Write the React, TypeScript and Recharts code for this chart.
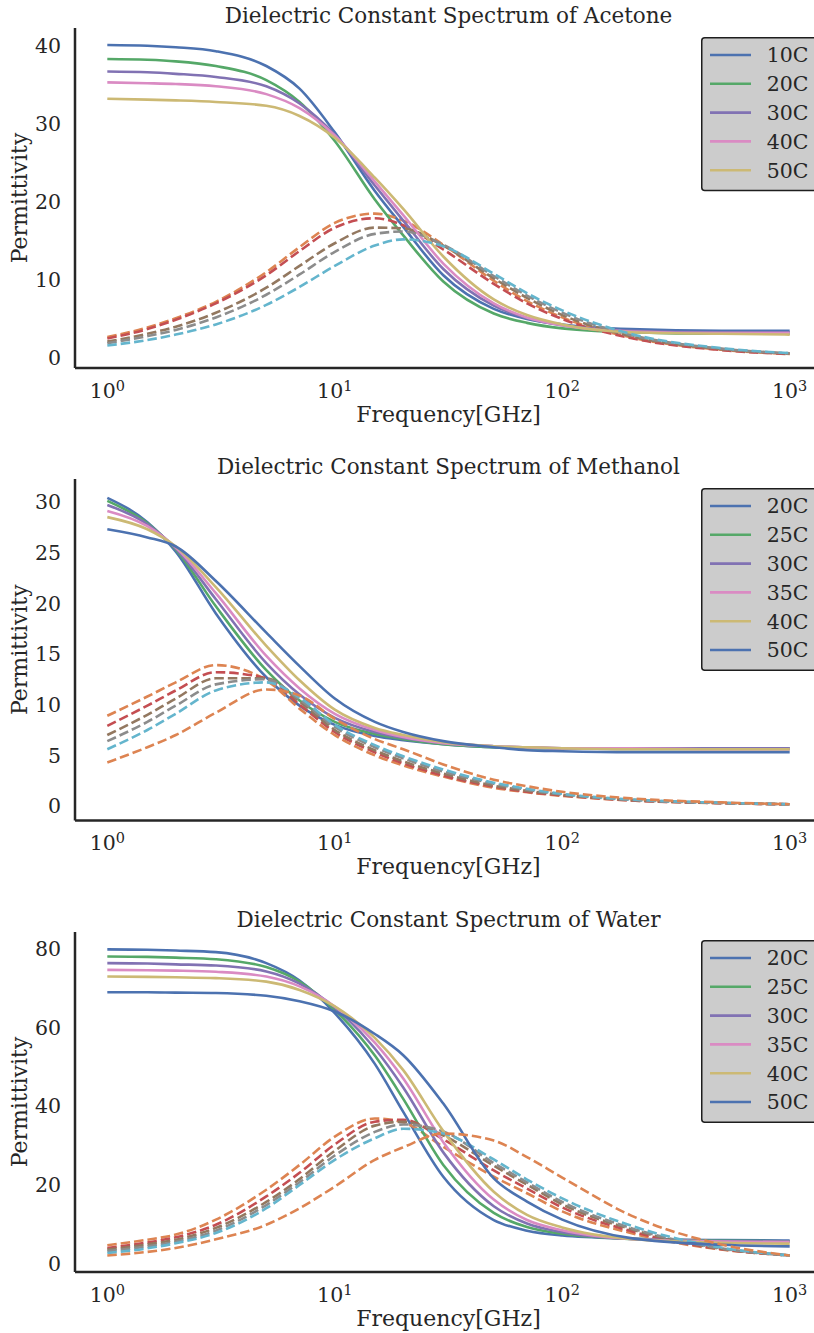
import React from 'react';
import { LineChart, Line, XAxis, YAxis } from 'recharts';

// frequency grid in GHz, shared by every curve
const FREQ = [1, 1.5, 2, 3, 5, 7, 10, 15, 20, 30, 50, 70, 100, 200, 500, 1000];

const ACETONE_TEMPS = ['10C', '20C', '30C', '40C', '50C'];
const ACETONE_REAL = [
  [40.1, 40.0, 39.8, 39.3, 37.4, 34.5, 28.9, 21.4, 16.8, 10.6, 6.3, 5.0, 4.3, 3.7, 3.5, 3.5],
  [38.3, 38.2, 38.0, 37.4, 35.6, 32.8, 27.8, 20.3, 15.7, 9.8, 5.7, 4.5, 3.8, 3.3, 3.1, 3.1],
  [36.7, 36.6, 36.4, 36.0, 34.8, 32.6, 28.6, 22.1, 17.6, 11.4, 6.7, 5.1, 4.2, 3.5, 3.3, 3.3],
  [35.3, 35.2, 35.1, 34.8, 33.8, 32.0, 28.5, 22.6, 18.3, 12.1, 7.0, 5.2, 4.2, 3.4, 3.2, 3.2],
  [33.2, 33.1, 33.0, 32.8, 32.3, 31.0, 28.2, 23.1, 19.1, 13.0, 7.5, 5.5, 4.3, 3.3, 3.1, 3.0],
];
const ACETONE_IMAG = [
  [2.7, 3.9, 5.1, 7.2, 11.0, 14.2, 17.3, 18.5, 17.6, 14.5, 9.9, 7.3, 5.2, 2.65, 1.06, 0.53],
  [2.5, 3.7, 4.9, 7.0, 10.6, 13.7, 16.7, 17.9, 17.0, 13.9, 9.5, 7.0, 5.0, 2.55, 1.02, 0.51],
  [2.1, 3.1, 4.0, 5.8, 9.0, 11.8, 14.7, 16.7, 16.6, 14.4, 10.2, 7.7, 5.5, 2.8, 1.14, 0.57],
  [1.9, 2.8, 3.6, 5.2, 8.1, 10.7, 13.6, 15.9, 16.2, 14.5, 10.5, 8.0, 5.8, 2.95, 1.2, 0.6],
  [1.6, 2.3, 3.0, 4.3, 6.8, 9.1, 11.8, 14.4, 15.2, 14.3, 10.8, 8.3, 6.1, 3.1, 1.27, 0.63],
];

const METHANOL_TEMPS = ['20C', '25C', '30C', '35C', '40C', '50C'];
const METHANOL_REAL = [
  [30.4, 28.0, 25.1, 19.0, 12.7, 9.9, 8.0, 6.9, 6.5, 6.1, 5.8, 5.7, 5.7, 5.6, 5.6, 5.6],
  [30.1, 27.9, 25.3, 19.7, 13.4, 10.4, 8.3, 7.1, 6.6, 6.1, 5.8, 5.7, 5.7, 5.7, 5.7, 5.7],
  [29.7, 27.8, 25.4, 20.4, 14.1, 11.0, 8.7, 7.3, 6.7, 6.2, 5.9, 5.8, 5.7, 5.7, 5.7, 5.7],
  [29.1, 27.6, 25.5, 21.0, 14.8, 11.6, 9.1, 7.5, 6.8, 6.2, 5.9, 5.8, 5.7, 5.7, 5.6, 5.6],
  [28.5, 27.3, 25.6, 21.6, 15.8, 12.4, 9.5, 7.7, 7.0, 6.3, 5.9, 5.8, 5.7, 5.6, 5.6, 5.6],
  [27.3, 26.5, 25.6, 22.2, 17.1, 13.8, 10.6, 8.3, 7.3, 6.4, 5.8, 5.5, 5.4, 5.3, 5.3, 5.3],
];
const METHANOL_IMAG = [
  [8.9, 10.8, 12.2, 13.9, 12.4, 9.6, 7.0, 5.0, 4.0, 2.9, 1.8, 1.35, 1.0, 0.55, 0.28, 0.17],
  [7.9, 9.9, 11.4, 13.2, 12.6, 10.0, 7.3, 5.3, 4.2, 3.0, 1.9, 1.4, 1.05, 0.55, 0.28, 0.17],
  [7.0, 9.0, 10.6, 12.6, 12.6, 10.3, 7.5, 5.5, 4.4, 3.2, 2.0, 1.5, 1.1, 0.6, 0.3, 0.17],
  [6.4, 8.3, 9.9, 12.0, 12.5, 10.5, 7.8, 5.8, 4.7, 3.4, 2.2, 1.6, 1.15, 0.6, 0.3, 0.17],
  [5.6, 7.5, 9.1, 11.4, 12.2, 10.7, 8.0, 6.0, 4.9, 3.6, 2.3, 1.7, 1.2, 0.65, 0.32, 0.17],
  [4.3, 5.8, 7.0, 9.2, 11.5, 10.9, 8.6, 6.6, 5.6, 4.1, 2.6, 1.95, 1.4, 0.75, 0.36, 0.17],
];

const WATER_TEMPS = ['20C', '25C', '30C', '35C', '40C', '50C'];
const WATER_REAL = [
  [79.8, 79.7, 79.5, 79.1, 76.3, 71.9, 63.6, 50.7, 38.5, 22.0, 11.0, 8.3, 7.1, 6.3, 5.9, 5.8],
  [78.0, 77.9, 77.7, 77.3, 75.3, 71.6, 64.4, 52.8, 41.8, 25.0, 12.8, 9.2, 7.5, 6.2, 5.7, 5.6],
  [76.3, 76.2, 76.0, 75.7, 74.2, 71.1, 65.0, 54.6, 44.7, 28.2, 14.5, 10.1, 7.9, 6.2, 5.6, 5.5],
  [74.6, 74.5, 74.4, 74.1, 72.9, 70.4, 65.3, 56.1, 47.0, 30.8, 16.2, 11.0, 8.4, 6.2, 5.5, 5.4],
  [72.9, 72.8, 72.7, 72.5, 71.6, 69.5, 65.3, 57.3, 49.1, 33.6, 18.2, 12.3, 9.1, 6.2, 5.2, 5.0],
  [68.9, 68.9, 68.8, 68.7, 68.0, 66.6, 64.0, 58.3, 52.9, 40.6, 21.6, 15.7, 11.1, 6.4, 4.7, 4.3],
];
const WATER_IMAG = [
  [4.6, 6.0, 7.3, 11.1, 18.7, 25.0, 32.2, 36.8, 35.8, 29.6, 22.0, 17.8, 13.2, 7.7, 3.5, 2.0],
  [3.9, 5.3, 6.6, 9.8, 17.0, 23.0, 30.2, 36.0, 36.5, 31.5, 23.6, 19.0, 14.2, 8.2, 3.6, 2.0],
  [3.5, 4.8, 6.0, 9.0, 15.6, 21.4, 28.6, 35.0, 36.0, 32.5, 24.8, 20.0, 15.0, 8.7, 3.7, 2.0],
  [3.1, 4.3, 5.5, 8.3, 14.8, 20.6, 27.4, 33.4, 35.3, 33.5, 25.5, 20.6, 15.6, 9.0, 3.8, 2.0],
  [2.6, 3.8, 5.1, 7.7, 14.0, 19.9, 26.3, 31.8, 34.2, 33.0, 26.4, 21.3, 16.5, 9.6, 4.0, 2.0],
  [2.0, 2.9, 3.9, 6.1, 9.8, 14.0, 19.5, 26.3, 29.5, 33.0, 31.2, 27.0, 21.8, 12.2, 4.8, 2.0],
];

const X_TICKS = [1, 10, 100, 1000];
const REAL_COLORS = ['#4C72B0', '#55A868', '#8172B3', '#DA8BC3', '#CCB974', '#4C72B0'];
const IMAG_COLORS = ['#DD8452', '#C44E52', '#937860', '#8C8C8C', '#64B5CD', '#DD8452'];

const FONT = '"DejaVu Serif", serif';
const INK = '#262626';
const X_DOMAIN: [number, number] = [0.721, 1387];
const CHART_W = 830;
const PLOT_LEFT = 75;
const PLOT_RIGHT = 822;
const TOP = 30;     // space above the plot area inside each chart
const BELOW = 65;   // space for ticks + x label
const LINE_W = 2.6;
const TICK_FS = 20.5;
const LABEL_FS = 22;

function buildRows(real: number[][], imag: number[][]) {
  return FREQ.map((f, k) => {
    const row: Record<string, number> = { f };
    real.forEach((s, i) => { row['r' + i] = s[k]; });
    imag.forEach((s, i) => { row['i' + i] = s[k]; });
    return row;
  });
}

type PanelProps = {
  title: string;
  temps: string[];
  real: number[][];
  imag: number[][];
  yTicks: number[];
  yDomain: [number, number];
  plotTop: number;
  plotH: number;
};

function Legend({ temps, top }: { temps: string[]; top: number }) {
  const h = 17.3 + (temps.length - 1) * 28.8 + 20.2;
  return (
    <svg style={{ position: 'absolute', left: 701, top, overflow: 'visible' }} width={125} height={h + 2}>
      <rect x={0.75} y={0.75} width={122} height={h} rx={3} fill="#CCCCCC" stroke="#1e1e1e" strokeWidth={1.5} />
      {temps.map((t, i) => {
        const y = 18 + i * 28.8;
        return (
          <g key={t + i}>
            <line x1={9} x2={50} y1={y} y2={y} stroke={REAL_COLORS[i]} strokeWidth={LINE_W} />
            <text x={65.7} y={y + 7.4} fontFamily={FONT} fontSize={TICK_FS} fill={INK}>{t}</text>
          </g>
        );
      })}
    </svg>
  );
}

function Panel({ title, temps, real, imag, yTicks, yDomain, plotTop, plotH }: PanelProps) {
  const rows = buildRows(real, imag);
  const bottom = TOP + plotH;
  const cx = (PLOT_LEFT + PLOT_RIGHT) / 2;
  const spine = { stroke: INK, strokeWidth: 2.5 };

  const xTick = (p: any) => {
    const exp = Math.round(Math.log10(p.payload.value));
    return (
      <text x={p.x} y={bottom + 30} textAnchor="middle" fontFamily={FONT} fontSize={TICK_FS} fill={INK}>
        10<tspan dy={-7.5} fontSize={14.5}>{exp}</tspan>
      </text>
    );
  };
  const yTick = (p: any) => (
    <text x={61} y={p.y + 7.4} textAnchor="end" fontFamily={FONT} fontSize={TICK_FS} fill={INK}>
      {p.payload.value}
    </text>
  );

  return (
    <div style={{ position: 'absolute', left: 0, top: plotTop - TOP }}>
      <LineChart
        width={CHART_W}
        height={TOP + plotH + BELOW}
        data={rows}
        margin={{ top: TOP, right: CHART_W - PLOT_RIGHT, bottom: 0, left: 15 }}
      >
        <XAxis
          xAxisId="top"
          orientation="top"
          dataKey="f"
          type="number"
          scale="log"
          domain={X_DOMAIN}
          allowDataOverflow
          height={0}
          tick={false}
          tickLine={false}
          axisLine={spine}
        />
        <XAxis
          dataKey="f"
          type="number"
          scale="log"
          domain={X_DOMAIN}
          allowDataOverflow
          ticks={X_TICKS}
          interval={0}
          height={BELOW}
          tickLine={false}
          axisLine={spine}
          tick={xTick}
          label={() => (
            <text x={cx} y={bottom + 54} textAnchor="middle" fontFamily={FONT} fontSize={LABEL_FS} fill={INK}>
              Frequency[GHz]
            </text>
          )}
        />
        <YAxis
          type="number"
          domain={yDomain}
          allowDataOverflow
          ticks={yTicks}
          interval={0}
          width={60}
          tickLine={false}
          axisLine={spine}
          tick={yTick}
          label={() => (
            <text
              x={27}
              y={TOP + plotH / 2}
              transform={`rotate(-90, 27, ${TOP + plotH / 2})`}
              textAnchor="middle"
              fontFamily={FONT}
              fontSize={LABEL_FS}
              fill={INK}
            >
              Permittivity
            </text>
          )}
        />
        {real.flatMap((_, i) => [
          <Line
            key={'r' + i}
            xAxisId={0}
            dataKey={'r' + i}
            type="monotone"
            stroke={REAL_COLORS[i]}
            strokeWidth={LINE_W}
            dot={false}
            activeDot={false}
            isAnimationActive={false}
          />,
          <Line
            key={'i' + i}
            xAxisId={0}
            dataKey={'i' + i}
            type="monotone"
            stroke={IMAG_COLORS[i]}
            strokeWidth={LINE_W}
            strokeDasharray="9.5 4"
            dot={false}
            activeDot={false}
            isAnimationActive={false}
          />,
        ])}
      </LineChart>
      <svg style={{ position: 'absolute', left: 0, top: 0 }} width={CHART_W} height={TOP}>
        <text x={cx} y={TOP - 5} textAnchor="middle" fontFamily={FONT} fontSize={21.5} fill={INK}>
          {title}
        </text>
      </svg>
      <Legend temps={temps} top={TOP + 8.4} />
    </div>
  );
}

export default function App() {
  return (
    <div style={{ position: 'absolute', left: 0, top: 0, width: 814, height: 1333, overflow: 'hidden', background: '#fff' }}>
      <Panel
        title="Dielectric Constant Spectrum of Acetone"
        temps={ACETONE_TEMPS}
        real={ACETONE_REAL}
        imag={ACETONE_IMAG}
        yTicks={[0, 10, 20, 30, 40]}
        yDomain={[-1.28, 42.27]}
        plotTop={28.3}
        plotH={340}
      />
      <Panel
        title="Dielectric Constant Spectrum of Methanol"
        temps={METHANOL_TEMPS}
        real={METHANOL_REAL}
        imag={METHANOL_IMAG}
        yTicks={[0, 5, 10, 15, 20, 25, 30]}
        yDomain={[-1.42, 32.26]}
        plotTop={479.3}
        plotH={341.4}
      />
      <Panel
        title="Dielectric Constant Spectrum of Water"
        temps={WATER_TEMPS}
        real={WATER_REAL}
        imag={WATER_IMAG}
        yTicks={[0, 20, 40, 60, 80]}
        yDomain={[-2.21, 84.22]}
        plotTop={931.7}
        plotH={340}
      />
    </div>
  );
}
